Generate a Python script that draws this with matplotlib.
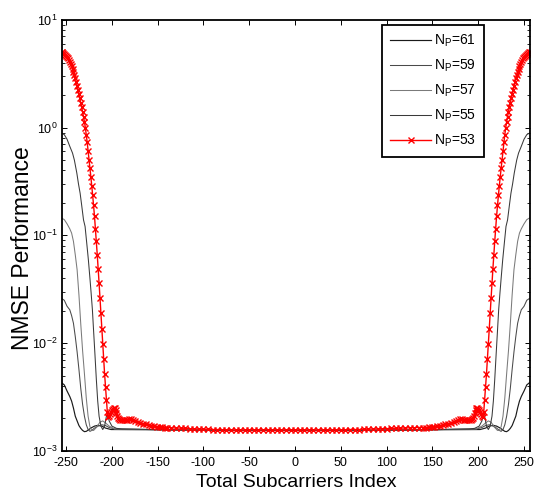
import numpy as np
import matplotlib
matplotlib.use("Agg")
import matplotlib.pyplot as plt
from matplotlib.ticker import LogLocator, NullFormatter, MultipleLocator

plt.rcParams["font.family"] = ["Liberation Sans", "DejaVu Sans"]
plt.rcParams["axes.unicode_minus"] = False
plt.rcParams["mathtext.fontset"] = "custom"
plt.rcParams["mathtext.rm"] = "Liberation Sans"
plt.rcParams["mathtext.it"] = "Liberation Sans:italic"

# Subcarrier index range
X_MIN, X_MAX = -255, 256

# Edge profiles: distance from the band edge (subcarriers) and NMSE value.
# The same profile is used at the lower and the upper band edge.
red_d = [0, 1, 2, 3, 4, 5, 6, 7, 8, 9, 10, 11, 12, 13, 14, 15, 16, 17, 18, 19,
         20, 21, 22, 23, 24, 25, 26, 27, 28, 29, 30, 31, 32, 33, 34, 35, 36, 37,
         38, 39, 40, 41, 42, 43, 44, 45, 46, 47, 48, 49, 50, 51, 52, 53, 54, 55,
         56, 57, 58, 59, 60, 61, 62, 63, 64, 66, 68, 70, 72, 74, 76, 78, 80, 83,
         86, 89, 92, 95, 98, 101, 104, 107, 110, 113]
red_v = [5.08, 5.03, 4.95, 4.85, 4.73, 4.63, 4.52, 4.4, 4.25, 4.1, 3.9, 3.7,
         3.5, 3.3, 3.1, 2.88, 2.66, 2.45, 2.25, 2.05, 1.87, 1.7, 1.55, 1.4,
         1.26, 1.13, 1.0, 0.86, 0.73, 0.61, 0.5, 0.42, 0.35, 0.29, 0.235, 0.19,
         0.15, 0.115, 0.088, 0.066, 0.049, 0.036, 0.026, 0.019, 0.0135, 0.0098,
         0.0071, 0.0052, 0.0039, 0.003, 0.0023, 0.00205, 0.0021, 0.00218,
         0.0023, 0.0024, 0.00247, 0.0025, 0.00248, 0.0024, 0.00225, 0.0021,
         0.002, 0.00196, 0.00194, 0.00193, 0.00192, 0.00193, 0.00195, 0.00197,
         0.00197, 0.00195, 0.0019, 0.00186, 0.00182, 0.00179, 0.00176, 0.00174,
         0.00172, 0.0017, 0.00168, 0.00167, 0.00166, 0.00165]

np55_d = [0, 3, 6, 9, 12, 14, 16.7, 18.5, 20.3, 22, 24, 25.7, 27.5, 29.3, 31,
          32.3, 33.7, 35, 36.5, 38, 39.5, 41, 43, 45, 47, 49, 50.5, 52, 55, 60, 66]
np55_v = [0.89, 0.86, 0.78, 0.67, 0.58, 0.5, 0.378, 0.3, 0.246, 0.19, 0.139,
          0.121, 0.085, 0.0593, 0.04, 0.0292, 0.0204, 0.013, 0.0078, 0.0046,
          0.0029, 0.0021, 0.0017, 0.00158, 0.0017, 0.0021, 0.00215, 0.0019,
          0.0017, 0.00162, 0.0016]

np57_d = [0, 3, 6, 9, 11, 13, 15, 17, 19, 21, 23, 25, 27, 29, 31, 33, 35, 38,
          42, 45, 48, 52, 58]
np57_v = [0.145, 0.14, 0.128, 0.115, 0.105, 0.088, 0.066, 0.048, 0.028, 0.015,
          0.0085, 0.0052, 0.0031, 0.0021, 0.00168, 0.00155, 0.00155, 0.00165,
          0.00185, 0.0019, 0.00182, 0.0017, 0.0016]

np59_d = [0, 3, 6, 9, 11, 13, 15, 17, 19, 21, 23, 25, 27, 29, 31, 33, 36, 40,
          44, 48, 52, 58]
np59_v = [0.026, 0.025, 0.022, 0.0204, 0.018, 0.0153, 0.0115, 0.0083, 0.0057,
          0.0038, 0.0027, 0.0021, 0.00175, 0.00158, 0.00152, 0.00155, 0.00163,
          0.0017, 0.00175, 0.00172, 0.00165, 0.0016]

np61_d = [0, 3, 6, 9, 11, 13, 15, 17, 19, 21, 23, 25, 27, 29, 32, 36, 40, 44,
          48, 54]
np61_v = [0.0043, 0.0041, 0.0036, 0.0032, 0.0029, 0.0025, 0.0021, 0.0019,
          0.00172, 0.00162, 0.00155, 0.00151, 0.00152, 0.00156, 0.00163,
          0.0017, 0.00173, 0.0017, 0.00163, 0.00158]

# Inner band (x = -140 ... 140)
red_mid_x = list(range(-140, 141, 5))
red_mid_v = [0.00165, 0.00164, 0.00163, 0.00163, 0.00162, 0.00161, 0.0016,
             0.0016, 0.00159, 0.00159, 0.00158, 0.00158, 0.00157, 0.00157,
             0.00157, 0.00156, 0.00157, 0.00156, 0.00157, 0.00157, 0.00156,
             0.00157, 0.00157, 0.00156, 0.00157, 0.00156, 0.00157, 0.00157,
             0.00156, 0.00157, 0.00156, 0.00157, 0.00157, 0.00156, 0.00157,
             0.00157, 0.00156, 0.00157, 0.00157, 0.00157, 0.00158, 0.00158,
             0.00158, 0.00159, 0.00159, 0.0016, 0.0016, 0.00161, 0.00161,
             0.00162, 0.00162, 0.00163, 0.00163, 0.00164, 0.00164, 0.00165,
             0.00165]
black_mid_x = list(range(-140, 141, 20))
black_mid_v = [0.00157, 0.00156, 0.00156, 0.00155, 0.00155, 0.00155, 0.00155,
               0.00155, 0.00155, 0.00155, 0.00155, 0.00155, 0.00156, 0.00156,
               0.00157]

labels = ["N$_\\mathrm{P}$=61", "N$_\\mathrm{P}$=59", "N$_\\mathrm{P}$=57",
          "N$_\\mathrm{P}$=55", "N$_\\mathrm{P}$=53"]


def full_curve(d, v, mid_x, mid_v):
    d = np.asarray(d, float)
    v = np.asarray(v, float)
    x = np.concatenate([X_MIN + d, mid_x, (X_MAX - d)[::-1]])
    y = np.concatenate([v, mid_v, v[::-1]])
    return x, y


fig = plt.figure(figsize=(5.34, 4.95), dpi=100)
ax = fig.add_axes([0.1161, 0.089, 0.8764, 0.871])

styles = [
    dict(color="#1a1a1a", lw=0.85),
    dict(color="#4a4a4a", lw=0.75),
    dict(color="#7a7a7a", lw=0.75),
    dict(color="#3a3a3a", lw=0.75),
]
profiles = [(np61_d, np61_v), (np59_d, np59_v), (np57_d, np57_v), (np55_d, np55_v)]
for (d, v), st, lab in zip(profiles, styles, labels[:4]):
    x, y = full_curve(d, v, black_mid_x, black_mid_v)
    ax.plot(x, y, label=lab, **st)

x, y = full_curve(red_d, red_v, red_mid_x, red_mid_v)
ax.plot(x, y, color="red", lw=1.0, marker="x", ms=4.0, mew=1.0,
        label=labels[4])

ax.set_yscale("log")
ax.set_xlim(-254.5, 256.5)
ax.set_ylim(1e-3, 1e1)
ax.xaxis.set_major_locator(MultipleLocator(50))
ax.yaxis.set_major_locator(LogLocator(base=10, numticks=10))
ax.yaxis.set_minor_locator(LogLocator(base=10, subs=np.arange(2, 10), numticks=20))
ax.yaxis.set_minor_formatter(NullFormatter())

ax.tick_params(which="both", direction="in", top=True, right=True,
               labelsize=9, colors="black")
ax.tick_params(axis="x", pad=4)
ax.tick_params(axis="y", pad=3)
ax.tick_params(which="major", length=3.5, width=0.7)
ax.tick_params(which="minor", length=2.2, width=0.6)
for sp in ax.spines.values():
    sp.set_linewidth(1.3)

ax.set_xlabel("Total Subcarriers Index", fontsize=14, labelpad=4)
ax.set_ylabel("NMSE Performance", fontsize=16.5)
ax.yaxis.set_label_coords(-0.06, 0.47)

leg = ax.legend(loc="upper left", bbox_to_anchor=(0.684, 0.988),
                borderaxespad=0, fontsize=10, handlelength=3.0,
                handletextpad=0.2, labelspacing=0.62, borderpad=0.55,
                numpoints=1, fancybox=False, framealpha=1)
leg.get_frame().set_edgecolor("black")
leg.get_frame().set_linewidth(1.3)

fig.savefig("out.png", dpi=100)
